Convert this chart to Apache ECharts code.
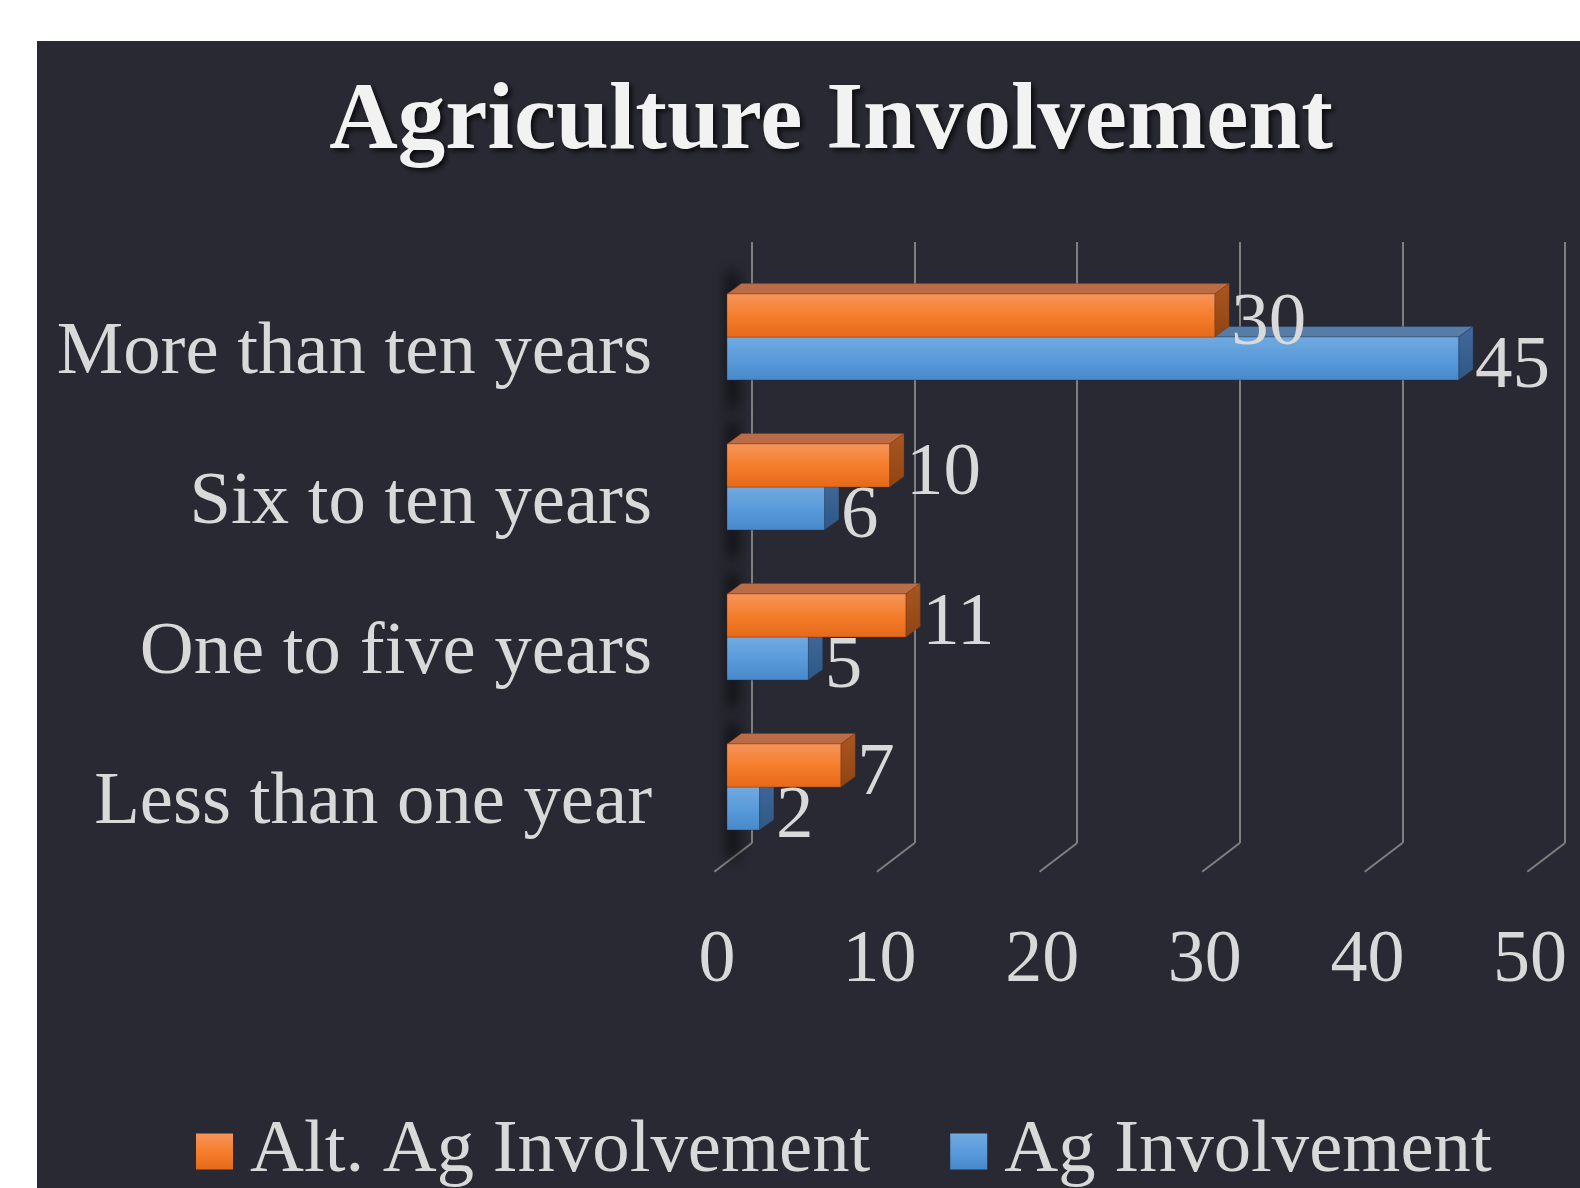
<!DOCTYPE html>
<html>
<head>
<meta charset="utf-8">
<title>Agriculture Involvement</title>
<script src="https://cdn.jsdelivr.net/npm/echarts@6/dist/echarts.min.js"></script>
<style>
  html, body { margin: 0; padding: 0; background: #ffffff; }
  #chart { width: 1580px; height: 1188px; }
</style>
</head>
<body>
<div id="chart"></div>
<script>
// ---- data ----
const categories = ['More than ten years', 'Six to ten years', 'One to five years', 'Less than one year'];
const altAgValues = [30, 10, 11, 7];
const agValues = [45, 6, 5, 2];
const tickValues = [0, 10, 20, 30, 40, 50];

// ---- look ----
const FONT = '"Liberation Serif", "Times New Roman", serif';
const TEXT_COLOR = '#d9d9d9';
const PANEL_COLOR = '#292933';
const GRID_COLOR = '#7f7f7f';
const DEPTH_X = 14.4;     // bar depth (oblique projection)
const DEPTH_Y = -10.5;
const FLOOR_X = -37.7;    // floor depth from wall to front edge
const FLOOR_Y = 28.7;
const BAR_RATIO = 0.287;  // bar thickness relative to the category band

const G = echarts.graphic;
const orangePalette = {
  front: new G.LinearGradient(0, 0, 0, 1, [
    { offset: 0, color: '#f6945b' }, { offset: 0.5, color: '#f57e2c' }, { offset: 1, color: '#e46918' }
  ]),
  top: '#b96c45',
  side: new G.LinearGradient(0, 0, 0, 1, [
    { offset: 0, color: '#ab561f' }, { offset: 1, color: '#8e4514' }
  ]),
  edge: 'rgba(120,50,10,0.35)'
};
const bluePalette = {
  front: new G.LinearGradient(0, 0, 0, 1, [
    { offset: 0, color: '#70aae0' }, { offset: 0.5, color: '#5a9bdb' }, { offset: 1, color: '#4688c9' }
  ]),
  top: '#577ca6',
  side: new G.LinearGradient(0, 0, 0, 1, [
    { offset: 0, color: '#43699a' }, { offset: 1, color: '#2f5886' }
  ]),
  edge: 'rgba(20,50,90,0.35)'
};

// Draws one 3D bar: front face, top face, right side face and value label.
// side < 0 : bar sits above the category centre line, side > 0 : below it.
function barRenderer(side, palette, zBase) {
  return function (params, api) {
    const val = api.value(0);
    const cat = api.value(1);
    const p0 = api.coord([0, cat]);
    const p1 = api.coord([val, cat]);
    const h = api.size([0, 1])[1] * BAR_RATIO;
    const x0 = p0[0], x1 = p1[0];
    const y0 = side < 0 ? p0[1] - h : p0[1];
    const y1 = y0 + h;
    return {
      type: 'group',
      children: [
        {
          type: 'polygon', z2: zBase,
          shape: { points: [[x0, y0], [x1, y0], [x1 + DEPTH_X, y0 + DEPTH_Y], [x0 + DEPTH_X, y0 + DEPTH_Y]] },
          style: { fill: palette.top, stroke: palette.edge, lineWidth: 1 }
        },
        {
          type: 'polygon', z2: zBase,
          shape: { points: [[x1, y0], [x1 + DEPTH_X, y0 + DEPTH_Y], [x1 + DEPTH_X, y1 + DEPTH_Y], [x1, y1]] },
          style: { fill: palette.side, stroke: palette.edge, lineWidth: 1 }
        },
        {
          type: 'rect', z2: zBase,
          shape: { x: x0, y: y0, width: x1 - x0, height: h },
          style: { fill: palette.front, stroke: palette.edge, lineWidth: 1 }
        },
        {
          type: 'text', z2: 100,
          x: x1 + DEPTH_X + 2,
          y: (y0 + y1) / 2 + 9,
          style: {
            text: String(val),
            fontFamily: FONT, fontSize: 75,
            fill: TEXT_COLOR,
            align: 'left', verticalAlign: 'middle'
          }
        }
      ]
    };
  };
}

// Soft shadow cast on the back wall at the left end of each bar pair.
function shadowRenderer(params, api) {
  const cat = api.value(1);
  const p0 = api.coord([0, cat]);
  const h = api.size([0, 1])[1] * BAR_RATIO;
  const far = 5000;
  return {
    type: 'rect',
    silent: true,
    shape: { x: p0[0] + 1 - far, y: p0[1] - h - 22, width: 9, height: 2 * h + 50 },
    style: {
      fill: '#000',
      shadowBlur: 14,
      shadowColor: 'rgba(0,0,0,0.85)',
      shadowOffsetX: far,
      shadowOffsetY: 0
    }
  };
}

// Floor part of each wall grid line, running forward from the wall.
function floorLineRenderer(params, api) {
  const p = api.coord([api.value(0), 0]);
  return {
    type: 'polyline',
    shape: { points: [[p[0], p[1]], [p[0] + FLOOR_X, p[1] + FLOOR_Y]] },
    style: { stroke: GRID_COLOR, lineWidth: 2, fill: null }
  };
}

const chart = echarts.init(document.getElementById('chart'), null, { renderer: 'canvas' });

const valueAxisBase = { type: 'value', min: 0, max: 50, interval: 10 };

chart.setOption({
  backgroundColor: '#ffffff',
  animation: false,
  graphic: [
    {
      type: 'rect', z: -100,
      shape: { x: 37, y: 41, width: 1543, height: 1147 },
      style: { fill: PANEL_COLOR }
    },
    {
      type: 'text', z: 10,
      x: 831, y: 123,
      style: {
        text: 'Agriculture Involvement',
        fontFamily: FONT, fontSize: 95, fontWeight: 'bold',
        fill: '#f2f2f2',
        align: 'center', verticalAlign: 'middle',
        textShadowColor: 'rgba(0,0,0,0.75)',
        textShadowBlur: 5,
        textShadowOffsetX: 3,
        textShadowOffsetY: 3
      }
    }
  ],
  legend: {
    data: ['Alt. Ag Involvement', 'Ag Involvement'],
    left: 196, top: 1114,
    padding: 0,
    icon: 'rect',
    itemWidth: 37, itemHeight: 36,
    itemGap: 80,
    selectedMode: false,
    textStyle: { fontFamily: FONT, fontSize: 74.7, color: TEXT_COLOR, padding: [0, 0, 0, 12] }
  },
  grid: [
    // bar plane
    { left: 727, right: 40, top: 262, height: 600, outerBoundsMode: 'none' },
    // back wall
    { left: 752, right: 15, top: 242, height: 601, outerBoundsMode: 'none' },
    // front floor edge (value labels)
    { left: 717, right: 50, top: 800, height: 72, outerBoundsMode: 'none' }
  ],
  xAxis: [
    Object.assign({ gridIndex: 0, show: false }, valueAxisBase),
    Object.assign({
      gridIndex: 1,
      axisLine: { show: false }, axisTick: { show: false }, axisLabel: { show: false },
      splitLine: { show: true, showMinLine: true, showMaxLine: true, lineStyle: { color: GRID_COLOR, width: 2 } }
    }, valueAxisBase),
    Object.assign({
      gridIndex: 2,
      axisLine: { show: false }, axisTick: { show: false }, splitLine: { show: false },
      axisLabel: { show: true, margin: 53, fontFamily: FONT, fontSize: 74, color: TEXT_COLOR }
    }, valueAxisBase)
  ],
  yAxis: [
    {
      gridIndex: 0, type: 'category', data: categories, inverse: true,
      axisLine: { show: false }, axisTick: { show: false }, splitLine: { show: false },
      axisLabel: {
        margin: 75, fontFamily: FONT, fontSize: 74.7, color: TEXT_COLOR,
        verticalAlign: 'top', lineHeight: 32
      }
    },
    { gridIndex: 1, type: 'value', min: 0, max: 1, show: false },
    { gridIndex: 2, type: 'value', min: 0, max: 1, show: false }
  ],
  series: [
    {
      type: 'custom', name: 'floor', silent: true,
      xAxisIndex: 1, yAxisIndex: 1,
      encode: { x: 0, y: 1 },
      data: tickValues.map(v => [v, 0]),
      renderItem: floorLineRenderer
    },
    {
      type: 'custom', name: 'shadow', silent: true,
      xAxisIndex: 0, yAxisIndex: 0,
      encode: { x: 0, y: 1 },
      data: categories.map((c, i) => [0, i]),
      renderItem: shadowRenderer
    },
    {
      type: 'custom', name: 'Ag Involvement',
      xAxisIndex: 0, yAxisIndex: 0,
      encode: { x: 0, y: 1 },
      itemStyle: { color: bluePalette.front },
      data: agValues.map((v, i) => [v, i]),
      renderItem: barRenderer(1, bluePalette, 1)
    },
    {
      type: 'custom', name: 'Alt. Ag Involvement',
      xAxisIndex: 0, yAxisIndex: 0,
      encode: { x: 0, y: 1 },
      itemStyle: { color: orangePalette.front },
      data: altAgValues.map((v, i) => [v, i]),
      renderItem: barRenderer(-1, orangePalette, 2)
    }
  ]
});
</script>
</body>
</html>
